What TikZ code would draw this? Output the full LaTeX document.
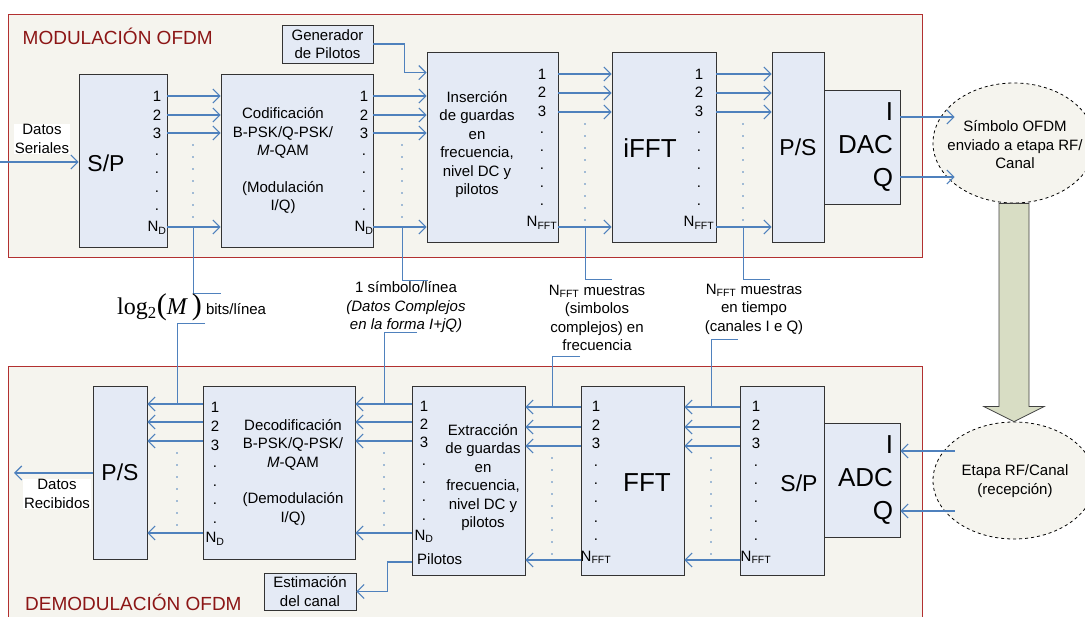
\documentclass[tikz,border=0pt]{standalone}
\usepackage{fontspec}
\setmainfont{Liberation Sans}
\newfontfamily\tmsfont{Liberation Serif}
\usepackage{tikz}
\usetikzlibrary{
  arrows.meta,
  shapes.geometric,
  calc
}
\definecolor{sigblue}{RGB}{79,129,189}
\definecolor{boxfill}{RGB}{228,234,245}
\definecolor{framered}{RGB}{178,48,48}
\definecolor{titlered}{RGB}{140,22,22}
\definecolor{panelbg}{RGB}{245,244,238}
\definecolor{arrowfill}{RGB}{216,221,196}
\newcommand{\Nd}{N\textsubscript{D}}
\newcommand{\Nfft}{N\textsubscript{FFT}}

\begin{document}
\begin{tikzpicture}[x=1pt, y=-1pt,
  every node/.style={font=\fontsize{15}{18.5}\selectfont, inner sep=0pt},
  blk/.style={draw=black!80, fill=boxfill, line width=0.8pt},
  sig/.style={draw=sigblue, line width=1.1pt,
              -{Straight Barb[length=7pt,width=14pt]}},
  tag/.style={draw=sigblue, line width=0.8pt},
  dotcol/.style={draw=sigblue, line width=1.6pt, line cap=round,
                 dash pattern=on 0pt off 12pt},
  panel/.style={draw=framered, fill=panelbg, line width=1pt},
  bubble/.style={ellipse, draw, dashed, fill=panelbg, line width=0.8pt},
  num/.style={anchor=base},
  bigtxt/.style={font=\fontsize{23}{28}\selectfont},
  hugetxt/.style={font=\fontsize{26}{33}\selectfont}
]
\useasboundingbox (0,0) rectangle (1085,617);
\clip (0,0) rectangle (1085,617);

% panels
\draw[panel] (8,15) rectangle (922,258);
\draw[panel] (8,367) rectangle (922,630);
\node[anchor=base west, text=titlered, font=\fontsize{19}{23}\selectfont]
  (ttlmod) at (22.5,45) {MODULACIÓN OFDM};
\node[anchor=base west, text=titlered, font=\fontsize{19}{23}\selectfont]
  (ttldem) at (25,610) {DEMODULACIÓN OFDM};

% dotted columns and leader lines
\foreach \xx/\ya/\yy/\xe in {193/145/293/221, 402/145/280/428,
                             585/124/279/612, 743/124/279/770} {
  \draw[dotcol] (\xx,\ya) -- (\xx,222);
  \draw[tag] (\xx,227) -- (\xx,\yy) -- (\xe,\yy);
}
\foreach \xx/\ya/\yb/\yr/\yy/\xe in {177/453/531/404/323/205,
    384/453/531/404/332/417, 552/458/557/407/356/580,
    711/458/557/407/339/738} {
  \draw[dotcol] (\xx,\ya) -- (\xx,\yb);
  \draw[tag] (\xe,\yy) -- (\xx,\yy) -- (\xx,\yr);
}

% notes between the two chains
\node[anchor=base west] (nlog) at (117,315)
  {{\tmsfont\fontsize{24}{26}\selectfont log\textsubscript{2}{\fontsize{30}{30}\selectfont(}\textit{M}\,{\fontsize{30}{30}\selectfont)}} bits/línea};
\node[align=center] (nsym) at (406,307.5)
  {1 símbolo/línea\\\textit{(Datos Complejos}\\\textit{en la forma I+jQ)}};
\node[align=center] (nfreq) at (597,318)
  {\Nfft{} muestras\\(simbolos\\complejos) en\\frecuencia};
\node[align=center] (ntime) at (754,309)
  {\Nfft{} muestras\\en tiempo\\(canales I e Q)};

% upper chain
\node[blk, minimum width=88pt, minimum height=173pt] (sp) at (123,160.5) {};
\node[blk, minimum width=152pt, minimum height=173pt] (cod) at (297,160.5) {};
\node[blk, align=center, minimum width=91pt, minimum height=38pt]
  (gen) at (327.5,44) {Generador\\de Pilotos};
\node[blk, minimum width=131pt, minimum height=190pt] (ins) at (492.5,147) {};
\node[blk, minimum width=104pt, minimum height=190pt] (ifft) at (664,147) {};
\node[blk, bigtxt, minimum width=52pt, minimum height=190pt] (ps) at (798,147) {P/S};
\node[blk, hugetxt, align=right, text width=62pt,
      minimum width=76pt, minimum height=114pt] (dac) at (862,147) {I\\DAC\\Q};

\node[bigtxt] (tsp) at (106,163) {S/P};
\node[align=center] (tcod) at (283,161)
  {Codificación\\B-PSK/Q-PSK/\\\textit{M}-QAM\\[18pt](Modulación\\I/Q)};
\node[align=center] (tins) at (477,144.5)
  {Inserción\\de guardas\\en\\frecuencia,\\nivel DC y\\pilotos};
\node[hugetxt] (tifft) at (650,148) {iFFT};

\foreach \col/\xx in {sp/157, cod/364}
  \foreach \lab/\yy [count=\i] in {1/102,2/121,3/139,./156,./174,./193,./211,\Nd/232}
    \node[num] (\col-\i) at (\xx,\yy) {\lab};
\foreach \col/\xx in {ins/542, ifft/699}
  \foreach \lab/\yy [count=\i] in {1/80,2/98,3/117,./134,./152,./170,./188,./206,\Nfft/227}
    \node[num] (\col-\i) at (\xx,\yy) {\lab};

% input
\coordinate (din) at (0,162);
\node[fill=white, align=center, inner sep=1pt] (dinlbl) at (42,139) {Datos\\Seriales};
\draw[sig] (din) -- (sp.west |- din);

% upper arrows
\foreach \yy in {96,115,133,227} {
  \coordinate (r) at (0,\yy);
  \draw[sig] (sp.east |- r) -- (cod.west |- r);
  \draw[sig] (cod.east |- r) -- (ins.west |- r);
}
\foreach \yy in {74,93,112,227} {
  \coordinate (r) at (0,\yy);
  \draw[sig] (ins.east |- r) -- (ifft.west |- r);
  \draw[sig] (ifft.east |- r) -- (ps.west |- r);
}
\draw[sig] (gen.east) -- ++(31,0) |- ($(ins.north west)+(0,21)$);

% channel
\node[bubble, minimum width=162pt, minimum height=120pt] (tx) at (1014,143) {};
\node[align=center] (txt) at (1015,145) {Símbolo OFDM\\enviado a etapa RF/\\Canal};
\node[bubble, minimum width=162pt, minimum height=117pt] (rx) at (1014,480.5) {};
\node[align=center] (rxt) at (1015,481) {Etapa RF/Canal\\(recepción)};
\draw[draw=black!75, fill=arrowfill, line width=0.8pt]
  ($(tx.south)+(-15,0)$) -- ($(rx.north)+(-15,-15)$) -- ($(rx.north)+(-30,-15)$)
  -- (rx.north) -- ($(rx.north)+(30,-15)$) -- ($(rx.north)+(15,-15)$)
  -- ($(tx.south)+(15,0)$) -- cycle;

\coordinate (dI) at (0,117);
\coordinate (dQ) at (0,177);
\draw[sig] (dac.east |- dI) -- ($(tx.west |- dI)+(22,0)$);
\draw[sig] (dac.east |- dQ) -- ($(tx.west |- dQ)+(22,0)$);

% lower chain
\node[blk, bigtxt, minimum width=54pt, minimum height=173pt] (psr) at (120,472.5) {P/S};
\node[blk, minimum width=152pt, minimum height=173pt] (dec) at (279,472.5) {};
\node[blk, minimum width=113pt, minimum height=189pt] (ext) at (468.5,480.5) {};
\node[blk, minimum width=103pt, minimum height=189pt] (fft) at (632.5,480.5) {};
\node[blk, minimum width=84pt, minimum height=189pt] (spr) at (782,480.5) {};
\node[blk, hugetxt, align=right, text width=62pt,
      minimum width=76pt, minimum height=114pt] (adc) at (862,480) {I\\ADC\\Q};
\node[blk, align=center, minimum width=92pt, minimum height=37pt]
  (est) at (310,591.5) {Estimación\\del canal};

\node[align=center] (tdec) at (293,472.5)
  {Decodificación\\B-PSK/Q-PSK/\\\textit{M}-QAM\\[18pt](Demodulación\\I/Q)};
\node[align=center] (text) at (483,477.5)
  {Extracción\\de guardas\\en\\frecuencia,\\nivel DC y\\pilotos};
\node[hugetxt] (tfft) at (647,483) {FFT};
\node[bigtxt] (tspr) at (799,483) {S/P};
\node[anchor=base west] (pil) at (417,565) {Pilotos};

\foreach \lab/\yy [count=\i] in {1/413,2/432,3/451,./468,./486,./504,./523,\Nd/543}
  \node[num] (dec-\i) at (215,\yy) {\lab};
\foreach \lab/\yy [count=\i] in {1/412,2/430,3/448,./466,./484,./502,./520,\Nd/540}
  \node[num] (ext-\i) at (424,\yy) {\lab};
\foreach \col/\xx in {fft/596, spr/756}
  \foreach \lab/\yy [count=\i] in {1/412,2/431,3/449,./467,./485,./503,./522,./540,\Nfft/561}
    \node[num] (\col-\i) at (\xx,\yy) {\lab};

% lower arrows
\coordinate (aI) at (0,451);
\coordinate (aQ) at (0,511);
\draw[sig] ($(rx.west |- aI)+(22,0)$) -- (adc.east |- aI);
\draw[sig] ($(rx.west |- aQ)+(22,0)$) -- (adc.east |- aQ);
\foreach \yy in {407,427,446,560} {
  \coordinate (r) at (0,\yy);
  \draw[sig] (spr.west |- r) -- (fft.east |- r);
  \draw[sig] (fft.west |- r) -- (ext.east |- r);
}
\foreach \yy in {404,422,441,533} {
  \coordinate (r) at (0,\yy);
  \draw[sig] (ext.west |- r) -- (dec.east |- r);
  \draw[sig] (dec.west |- r) -- (psr.east |- r);
}
\coordinate (pl) at (0,562);
\draw[sig] (ext.west |- pl) -- ++(-24,0) |- (est.east);

% output
\coordinate (dout) at (14,473);
\node[fill=white, align=center, inner sep=1pt] (doutlbl) at (57,494) {Datos\\Recibidos};
\draw[sig] (psr.west |- dout) -- (dout);
\end{tikzpicture}
\end{document}
